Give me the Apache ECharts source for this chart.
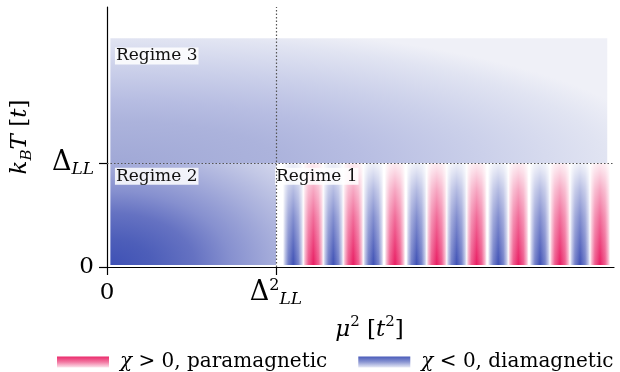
<!DOCTYPE html>
<html><head><meta charset="utf-8">
<script src="https://cdn.jsdelivr.net/npm/echarts@6/dist/echarts.min.js"></script>
<style>html,body{margin:0;padding:0;background:#fff}#c{width:620px;height:372px}</style>
</head><body><div id="c"></div>
<script>
// ---- data (x in units of Δ_LL^2, y in units of Δ_LL) ----
const xTicks = [0, 1];
const yTicks = [0, 1];
const xMax = 3;
const yMax = 2.5;

// regime boxes
const regimeNames = ['Regime 3', 'Regime 2', 'Regime 1'];
const regimeX0 = [0.02, 0.02, 1.0];
const regimeX1 = [2.96, 1.0, 2.99];
const regimeY0 = [1.0, 0.02, 0.02];
const regimeY1 = [2.2, 1.0, 1.0];
// label anchors (data units)
const regimeLabelX = [0.047, 0.047, 0.994];
const regimeLabelY = [2.11, 0.955, 0.955];

// oscillation peaks in regime 1
const paraPeaks = [1.221, 1.457, 1.704, 1.951, 2.187, 2.434, 2.680, 2.917];
const diaPeaks  = [1.102, 1.339, 1.576, 1.832, 2.069, 2.315, 2.562, 2.799];

const legendNames = ['χ > 0, paramagnetic', 'χ < 0, diamagnetic'];

// ---- styling ----
const SERIF = '"DejaVu Serif", serif';
const PINK = [233, 30, 99], BLUE = [63, 81, 181];
const rgba = (c, a) => `rgba(${c[0]},${c[1]},${c[2]},${a})`;
const period = (diaPeaks[diaPeaks.length - 1] - diaPeaks[0]) / (diaPeaks.length - 1);
const halfW = period / 4;

const regimeShade = [
  {rx: 3.3, ry: 1.35, stops: [[0, '#a0a8d6'], [0.3, '#acb3dc'], [0.45, '#b7bde2'], [0.67, '#cbd0ea'], [0.89, '#e1e4f2'], [1, '#eff0f7']]},
  {rx: 1.45, ry: 1.45, stops: [[0, '#3f51b5'], [0.17, '#4d5eb9'], [0.345, '#6572c2'], [0.49, '#8690cf'], [0.69, '#a9b0dc'], [0.85, '#c3c8e6'], [1, '#d9dcef']]},
  null
];

function stripeGrad(c) {
  const prof = [[0, 0], [0.1, 0.35], [0.25, 0.72], [0.5, 1], [0.75, 0.72], [0.9, 0.35], [1, 0]];
  return {type: 'linear', x: 0, y: 0, x2: 1, y2: 0,
    colorStops: prof.map(p => ({offset: p[0], color: rgba(c, p[1])}))};
}
function legendGrad(c) {
  return {type: 'linear', x: 0, y: 0, x2: 0, y2: 1,
    colorStops: [{offset: 0, color: rgba(c, 0.95)}, {offset: 0.5, color: rgba(c, 0.6)}, {offset: 1, color: rgba(c, 0.12)}]};
}

function regimeRender(params, api) {
  const i = api.value(4);
  const sh = regimeShade[i];
  if (!sh) return null;
  const p0 = api.coord([api.value(0), api.value(3)]);
  const p1 = api.coord([api.value(1), api.value(2)]);
  const w = p1[0] - p0[0], h = p1[1] - p0[1];
  const sz = api.size([sh.rx, sh.ry]);
  const Rx = sz[0], Ry = sz[1];
  return {
    type: 'rect', x: p0[0], y: p0[1], scaleX: Rx, scaleY: Ry, silent: true,
    shape: {x: 0, y: 0, width: w / Rx, height: h / Ry},
    style: {fill: {type: 'radial', x: 0, y: h / Ry, r: 1, global: true,
      colorStops: sh.stops.map(s => ({offset: s[0], color: s[1]}))}}
  };
}

function stripeRender(col) {
  return function (params, api) {
    const c = api.value(0);
    const p0 = api.coord([c - halfW, regimeY1[2]]);
    const p1 = api.coord([c + halfW, regimeY0[2]]);
    return {type: 'rect', silent: true,
      shape: {x: p0[0], y: p0[1], width: p1[0] - p0[0], height: p1[1] - p0[1]},
      style: {fill: stripeGrad(col)}};
  };
}

function fadeRender(params, api) {
  const p0 = api.coord([api.value(0), api.value(3)]);
  const p1 = api.coord([api.value(1), api.value(2)]);
  return {type: 'rect', silent: true,
    shape: {x: p0[0], y: p0[1], width: p1[0] - p0[0], height: p1[1] - p0[1]},
    style: {fill: {type: 'linear', x: 0, y: 0, x2: 0, y2: 1,
      colorStops: [{offset: 0, color: 'rgba(255,255,255,0.92)'}, {offset: 0.27, color: 'rgba(255,255,255,0.6)'},
                   {offset: 0.53, color: 'rgba(255,255,255,0.35)'}, {offset: 1, color: 'rgba(255,255,255,0)'}]}}};
}

function labelRender(params, api) {
  const p = api.coord([api.value(0), api.value(1)]);
  return {type: 'text', x: p[0], y: p[1], silent: true,
    style: {text: regimeNames[params.dataIndex], fontFamily: SERIF, fontSize: 17, fill: '#111',
      align: 'left', verticalAlign: 'top', backgroundColor: 'rgba(255,255,255,0.85)', padding: [0, 1, 0, 1]}};
}

const regimeData = regimeNames.map((n, i) => [regimeX0[i], regimeX1[i], regimeY0[i], regimeY1[i], i]);
const labelData = regimeNames.map((n, i) => [regimeLabelX[i], regimeLabelY[i]]);

const baseRich = {
  n: {fontFamily: SERIF, fontSize: 23, lineHeight: 30, color: '#000'},
  d: {fontFamily: SERIF, fontSize: 27, lineHeight: 30, color: '#000'},
  sp: {fontFamily: SERIF, fontSize: 16, lineHeight: 16, verticalAlign: 'top', color: '#000'},
  sb: {fontFamily: SERIF, fontSize: 17, lineHeight: 16, verticalAlign: 'bottom', fontStyle: 'italic', color: '#000'},
  i: {fontFamily: SERIF, fontSize: 23, lineHeight: 30, fontStyle: 'italic', color: '#000'},
  s2: {fontFamily: SERIF, fontSize: 15, lineHeight: 16, verticalAlign: 'top', color: '#000'},
  b2: {fontFamily: SERIF, fontSize: 15, lineHeight: 16, verticalAlign: 'bottom', fontStyle: 'italic', color: '#000'}
};

const chart = echarts.init(document.getElementById('c'), null, {renderer: 'canvas'});
chart.setOption({
  animation: false,
  backgroundColor: '#fff',
  grid: {left: 107, right: 6, top: 7, bottom: 105, outerBoundsMode: 'none', containLabel: false},
  legend: {
    left: 52, top: 347, itemWidth: 52, itemHeight: 11, itemGap: 31, icon: 'rect',
    data: [
      {name: legendNames[0], itemStyle: {color: legendGrad(PINK)}},
      {name: legendNames[1], itemStyle: {color: legendGrad(BLUE)}}
    ],
    formatter: name => '{i|χ}' + name.slice(1),
    textStyle: {fontFamily: SERIF, fontSize: 20, color: '#000', padding: [0, 0, 0, 6],
      rich: {i: {fontFamily: SERIF, fontSize: 20, fontStyle: 'italic', color: '#000'}}}
  },
  xAxis: {
    type: 'value', min: 0, max: xMax,
    splitLine: {show: false},
    axisLine: {lineStyle: {color: '#000', width: 1.2}},
    axisTick: {customValues: xTicks, length: 8, lineStyle: {color: '#000', width: 1.2}},
    axisLabel: {customValues: xTicks, margin: 11,
      formatter: v => v === 0 ? '{n|0}' : '{d|Δ}{sp|2}{sb|LL}', rich: baseRich},
    name: '{i|μ}{s2|2} [{i|t}{s2|2}]', nameLocation: 'middle', nameGap: 48,
    nameTextStyle: {fontFamily: SERIF, fontSize: 23, color: '#000', lineHeight: 30, padding: [0, 0, 0, 18], rich: baseRich}
  },
  yAxis: {
    type: 'value', min: 0, max: yMax,
    splitLine: {show: false},
    axisLine: {lineStyle: {color: '#000', width: 1.2}},
    axisTick: {customValues: yTicks, length: 8, lineStyle: {color: '#000', width: 1.2}},
    axisLabel: {customValues: yTicks, margin: 13,
      formatter: v => v === 0 ? '{n|0}' : '{d|Δ}{sb|LL}', rich: baseRich},
    name: '{i|k}{b2|B}{i|T} [{i|t}]', nameLocation: 'middle', nameGap: 72, nameRotate: 90,
    nameTextStyle: {fontFamily: SERIF, fontSize: 23, color: '#000', lineHeight: 30, rich: baseRich}
  },
  series: [
    {type: 'custom', name: 'regimes', z: 1, silent: true, renderItem: regimeRender, data: regimeData},
    {type: 'custom', name: legendNames[0], z: 2, silent: true, renderItem: stripeRender(PINK),
      itemStyle: {color: legendGrad(PINK)}, data: paraPeaks.map(v => [v])},
    {type: 'custom', name: legendNames[1], z: 2, silent: true, renderItem: stripeRender(BLUE),
      itemStyle: {color: legendGrad(BLUE)}, data: diaPeaks.map(v => [v])},
    {type: 'custom', name: 'fade', z: 3, silent: true, renderItem: fadeRender, data: [regimeData[2]],
      markLine: {silent: true, symbol: 'none', label: {show: false},
        lineStyle: {color: '#555', width: 1.2, type: [1.5, 2]},
        data: [{xAxis: xTicks[1]}, {yAxis: yTicks[1]}]}},
    {type: 'custom', name: 'labels', z: 4, silent: true, renderItem: labelRender, data: labelData}
  ]
});
</script></body></html>
